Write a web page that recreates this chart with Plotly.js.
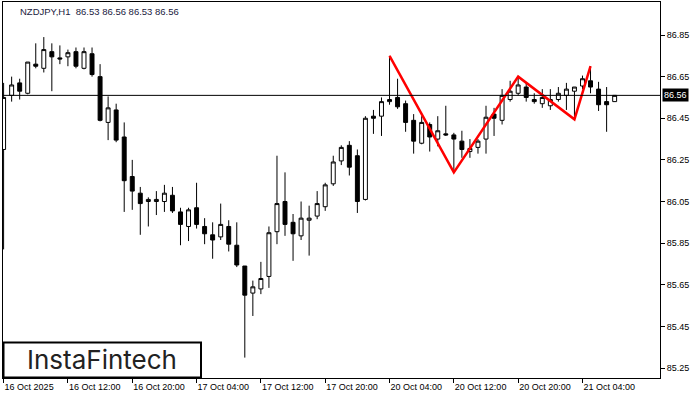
<!DOCTYPE html>
<html>
<head>
<meta charset="utf-8">
<script src="https://cdn.plot.ly/plotly-3.0.1.min.js"></script>
<style>html,body{margin:0;padding:0;background:#fff;}#chart{width:700px;height:400px;}</style>
</head>
<body>
<div id="chart"></div>
<script>
// NZDJPY H1 candles (first visible bar = 16 Oct 04:00)
var openP = [86.30,86.56,86.62,86.57,86.71,86.69,86.77,86.74,86.745,86.77,
  86.69,86.76,86.65,86.43,86.49,86.36,86.17,86.09,86.05,86.05,
  86.05,86.08,86.00,85.93,86.02,85.93,85.89,85.88,85.93,85.84,
  85.74,85.61,85.63,85.69,85.905,86.05,85.95,85.885,85.96,85.98,
  86.025,86.135,86.245,86.32,86.27,86.06,86.46,86.46,86.53,86.55,
  86.52,86.44,86.33,86.42,86.35,86.375,86.37,86.34,86.29,86.31,
  86.35,86.47,86.44,86.54,86.57,86.60,86.54,86.52,86.51,86.54,
  86.56,86.58,86.605,86.63,86.59,86.53,86.53];
var highP = [86.62,86.65,86.64,86.72,86.81,86.84,86.81,86.80,86.78,86.79,
  86.79,86.79,86.71,86.555,86.52,86.43,86.25,86.12,86.07,86.10,
  86.13,86.12,86.02,86.02,86.14,85.97,85.95,86.04,85.96,85.95,
  85.74,85.67,85.76,85.93,86.27,86.19,85.99,86.05,86.03,86.10,
  86.14,86.27,86.32,86.34,86.30,86.46,86.49,86.55,86.75,86.64,
  86.535,86.47,86.46,86.43,86.46,86.51,86.38,86.39,86.35,86.35,
  86.51,86.50,86.59,86.63,86.65,86.62,86.57,86.59,86.59,86.60,
  86.62,86.60,86.655,86.70,86.625,86.60,86.56];
var lowP = [85.82,86.53,86.54,86.565,86.69,86.67,86.58,86.71,86.70,86.69,
  86.685,86.65,86.435,86.345,86.335,86.00,86.01,85.89,85.93,85.985,
  86.00,85.995,85.84,85.86,85.92,85.845,85.775,85.865,85.81,85.735,
  85.30,85.50,85.605,85.635,85.845,85.885,85.765,85.865,85.79,85.965,
  86.005,86.125,86.225,86.175,85.995,86.055,86.375,86.365,86.515,86.495,
  86.385,86.28,86.325,86.29,86.315,86.365,86.19,86.26,86.26,86.28,
  86.28,86.365,86.42,86.53,86.56,86.53,86.52,86.50,86.49,86.53,
  86.49,86.445,86.59,86.57,86.485,86.385,86.53];
var closeP = [86.55,86.61,86.58,86.72,86.70,86.78,86.745,86.735,86.765,86.70,
  86.77,86.66,86.44,86.50,86.345,86.15,86.10,86.04,86.06,86.06,
  86.09,86.005,85.94,86.01,85.94,85.895,85.865,85.94,85.845,85.745,
  85.60,85.64,85.68,85.90,86.04,85.94,85.895,85.97,85.97,86.04,
  86.13,86.24,86.31,86.215,86.05,86.45,86.45,86.53,86.54,86.505,
  86.43,86.34,86.43,86.36,86.39,86.37,86.35,86.30,86.305,86.34,
  86.455,86.45,86.56,86.58,86.61,86.55,86.53,86.55,86.54,86.57,
  86.59,86.60,86.64,86.60,86.515,86.515,86.56];

// time axis labels (every 8 bars)
var tickBars = [0,8,16,24,32,40,48,56,64,72];
var tickLabels = ["16 Oct 2025","16 Oct 12:00","16 Oct 20:00","17 Oct 04:00","17 Oct 12:00",
  "17 Oct 20:00","20 Oct 04:00","20 Oct 12:00","20 Oct 20:00","21 Oct 04:00"];

// price axis labels
var priceTicks = [85.25,85.45,85.65,85.85,86.05,86.25,86.45,86.65,86.85];
var priceTickText = ["85.25","85.45","85.65","85.85","86.05","86.25","86.45","86.65","86.85"];

// triple-top pattern polyline (bar index, price)
var patternBars = [48,56,64,71,73];
var patternPrices = [86.75,86.19,86.65,86.445,86.70];

var bidPrice = 86.56;
var headerText = "NZDJPY,H1  86.53 86.56 86.53 86.56";
var logoText = "InstaFintech";

var barIdx = openP.map(function(_, i){ return i; });

var FONT = "'Liberation Sans', Arial, sans-serif";

var traces = [
  {
    type: 'candlestick',
    x: barIdx, open: openP, high: highP, low: lowP, close: closeP,
    increasing: {line: {color: '#000', width: 1}, fillcolor: '#fff'},
    decreasing: {line: {color: '#000', width: 1}, fillcolor: '#000'},
    whiskerwidth: 0,
    hoverinfo: 'skip',
    showlegend: false
  },
  {
    type: 'scatter', mode: 'lines',
    x: patternBars, y: patternPrices,
    line: {color: '#ff0000', width: 2.5},
    hoverinfo: 'skip', showlegend: false
  }
];

function px2paperX(px){ return (px - 3) / 657; }
function px2paperY(py){ return (378 - py) / 376; }

var layout = {
  width: 700, height: 400,
  margin: {l: 3, r: 40, t: 2, b: 22, pad: 0},
  paper_bgcolor: '#fff', plot_bgcolor: '#fff',
  showlegend: false,
  font: {family: FONT, size: 9, color: '#000'},
  xaxis: {
    range: [-0.075, 81.64],
    tickmode: 'array', tickvals: tickBars, ticktext: tickLabels,
    ticks: 'outside', ticklen: 4, tickcolor: '#000', tickwidth: 1,
    ticklabelposition: 'outside right',
    tickfont: {family: FONT, size: 9, color: '#000'},
    showgrid: false, zeroline: false,
    showline: true, mirror: true, linecolor: '#000', linewidth: 1,
    rangeslider: {visible: false},
    fixedrange: true
  },
  yaxis: {
    side: 'right',
    range: [85.202, 87.0086],
    tickmode: 'array', tickvals: priceTicks, ticktext: priceTickText,
    ticks: 'outside', ticklen: 4, tickcolor: '#000', tickwidth: 1,
    tickfont: {family: FONT, size: 9, color: '#000'},
    showgrid: false, zeroline: false,
    showline: true, mirror: true, linecolor: '#000', linewidth: 1,
    fixedrange: true
  },
  shapes: [
    {type: 'line', xref: 'paper', yref: 'y', x0: 0, x1: 1, y0: bidPrice, y1: bidPrice,
     line: {color: '#000', width: 1}, layer: 'above'},
    {type: 'rect', xref: 'paper', yref: 'paper',
     x0: px2paperX(3.5), x1: px2paperX(201), y0: px2paperY(377.5), y1: px2paperY(342.5),
     line: {color: '#000', width: 2}, fillcolor: '#fff', layer: 'above'}
  ],
  annotations: [
    {xref: 'paper', yref: 'paper', x: px2paperX(18), y: px2paperY(12),
     xanchor: 'left', yanchor: 'middle', showarrow: false,
     text: headerText, font: {family: FONT, size: 9.5, color: '#1a1a40'}},
    {xref: 'paper', yref: 'y', x: 1, y: bidPrice, xanchor: 'left', yanchor: 'middle',
     xshift: 2, showarrow: false, text: bidPrice.toFixed(2),
     bgcolor: '#000', borderpad: 1, font: {family: FONT, size: 9, color: '#fff'}},
    {xref: 'paper', yref: 'paper', x: px2paperX(102), y: px2paperY(359),
     xanchor: 'center', yanchor: 'middle', showarrow: false,
     text: logoText, font: {family: "Inter, 'Open Sans', sans-serif", size: 26, color: '#222'}}
  ]
};

Plotly.newPlot('chart', traces, layout, {staticPlot: true, displayModeBar: false});
</script>
</body>
</html>
